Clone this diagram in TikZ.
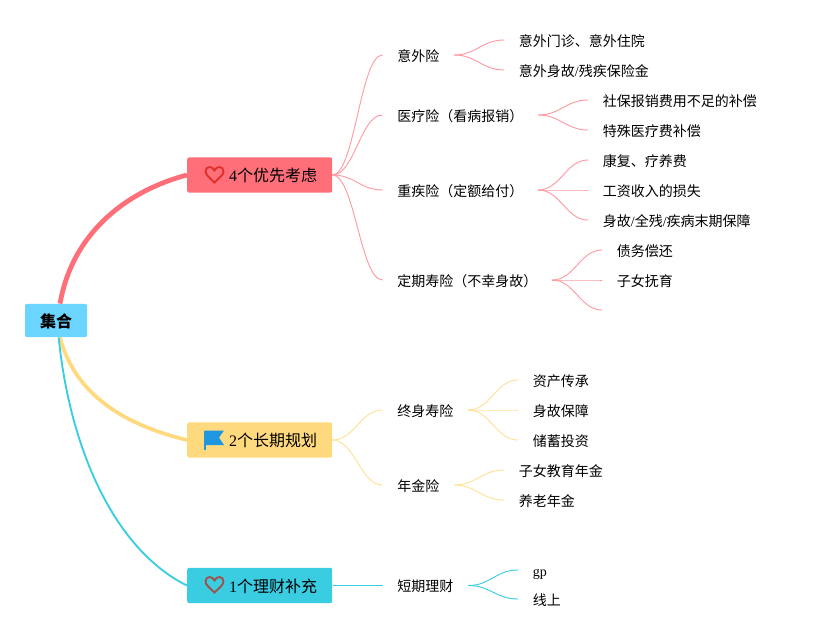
\documentclass[tikz,border=0pt]{standalone}
\usepackage{fontspec}
\setmainfont{Liberation Serif}
\newfontfamily\cjk{Noto Sans CJK SC}
\definecolor{rootblue}{HTML}{6BD5FF}
\definecolor{prored}{HTML}{FE6F7A}
\definecolor{proyellow}{HTML}{FFD97D}
\definecolor{procyan}{HTML}{3ACDE2}
\definecolor{heartred}{HTML}{E0302A}
\definecolor{heartbrown}{HTML}{A0524A}
\definecolor{flagblue}{HTML}{1E96E0}
\newcommand{\lat}[1]{{\rmfamily #1}}
\tikzset{
  rootbox/.style = {rounded corners = 1.5pt, inner sep = 0pt, minimum width = 46.5pt, minimum height = 25pt, text height = 11.5pt, text depth = 1.5pt, font = \cjk\bfseries\fontsize{12}{12}\selectfont},
  probox/.style = {rounded corners = 1.5pt, inner ysep = 0pt, inner xsep = 11.25pt, minimum height = 26.5pt, text height = 11.9pt, text depth = 1.5pt, font = \cjk\fontsize{12}{12}\selectfont},
  item/.style = {anchor = west, inner ysep = 0pt, inner xsep = 11pt, text height = 10.8pt, text depth = 1.3pt, font = \cjk\fontsize{10.5}{10.5}\selectfont},
  link/.style = {line width = 0.7pt, line cap = round},
  heart/.pic = {
    \draw[line width = 1.4pt, pic actions] (0,7.5) .. controls (-4,3.5) and (-9,0) .. (-9,-3.5) .. controls (-9,-9) and (-2,-9.5) .. (0,-4.5) .. controls (2,-9.5) and (9,-9) .. (9,-3.5) .. controls (9,0) and (4,3.5) .. cycle;
  },
  flag/.pic = {
    \fill[flagblue] (-9.5,-9.5) -- (9.5,-9.5) -- (4.5,-2.5) -- (9.5,5) -- (-9.5,5) -- cycle;
    \draw[flagblue, line width = 1pt] (-9.5,-9.5) -- (-9.5,10);
  },
}
\begin{document}
\begin{tikzpicture}[x = 0.75pt, y = -0.75pt]
\useasboundingbox (0,0) rectangle (817,639);

% main boxes
\node[rootbox, fill = rootblue] (root) at (56,320.5) {集合};
\node[probox, fill = prored, anchor = east] (prio) at (332.5,175) {\hspace*{20.25pt}\lat{4}个优先考虑};
\node[probox, fill = proyellow, anchor = east] (plan) at (332.5,440) {\hspace*{20.25pt}\lat{2}个长期规划};
\node[probox, fill = procyan, anchor = east] (fin) at (332.5,585.5) {\hspace*{20.25pt}\lat{1}个理财补充};

\path (214.5,175) pic[draw = heartred] {heart};
\path (214.5,440) pic {flag};
\path (214.5,585) pic[draw = heartbrown] {heart};

% thick branches
\draw[prored, line width = 3.6pt] ([xshift = 3pt]root.north) .. controls (73,230) and (130,190) .. (prio.west);
\draw[proyellow, line width = 2.8pt] ([xshift = 3pt]root.south) .. controls (75,395) and (125,425) .. (plan.west);
\draw[procyan, line width = 1.4pt] ([xshift = 2pt]root.south) .. controls (70,450) and (115,550) .. (fin.west);

% second level
\foreach \name/\ypos/\txt in {acc/55/意外险, med/115/医疗险（看病报销）, crit/190/重疾险（定额给付）, term/280/定期寿险（不幸身故）, life/410/终身寿险, ann/485/年金险, short/585.5/短期理财}
   \node[item] (\name) at (382.5,\ypos) {\txt};

% leaves
\foreach \name/\xpos/\ypos/\txt in {
   acc1/504/40/意外门诊、意外住院, acc2/504/70/意外身故\lat{/}残疾保险金,
   med1/588/100/社保报销费用不足的补偿, med2/588/130/特殊医疗费补偿,
   crit1/588/160/康复、疗养费, crit2/588/190/工资收入的损失, crit3/588/220/身故\lat{/}全残\lat{/}疾病末期保障,
   term1/602/250/债务偿还, term2/602/280/子女抚育,
   life1/518/380/资产传承, life2/518/410/身故保障, life3/518/440/储蓄投资,
   ann1/504/470/子女教育年金, ann2/504/500/养老年金,
   short1/518/570/\lat{gp}, short2/518/599/线上}
   \node[item] (\name) at (\xpos,\ypos) {\txt};
\coordinate (term3) at (602,310);

% thin links
\foreach \from/\to in {prio/acc, prio/med, prio/crit, prio/term, acc/acc1, acc/acc2, med/med1, med/med2, crit/crit1, crit/crit2, crit/crit3, term/term1, term/term2}
   \draw[prored!70, link] (\from.east) .. controls +(22,0) and +(-22,0) .. (\to.west);
\draw[prored!70, link] (term.east) .. controls +(22,0) and +(-22,0) .. (term3);

\foreach \from/\to in {plan/life, plan/ann, life/life1, life/life2, life/life3, ann/ann1, ann/ann2}
   \draw[proyellow!80, link] (\from.east) .. controls +(22,0) and +(-22,0) .. (\to.west);

\draw[procyan, line width = 1.1pt] (fin.east) -- (short.west);
\foreach \from/\to in {short/short1, short/short2}
   \draw[procyan, link] (\from.east) .. controls +(22,0) and +(-22,0) .. (\to.west);
\end{tikzpicture}
\end{document}
